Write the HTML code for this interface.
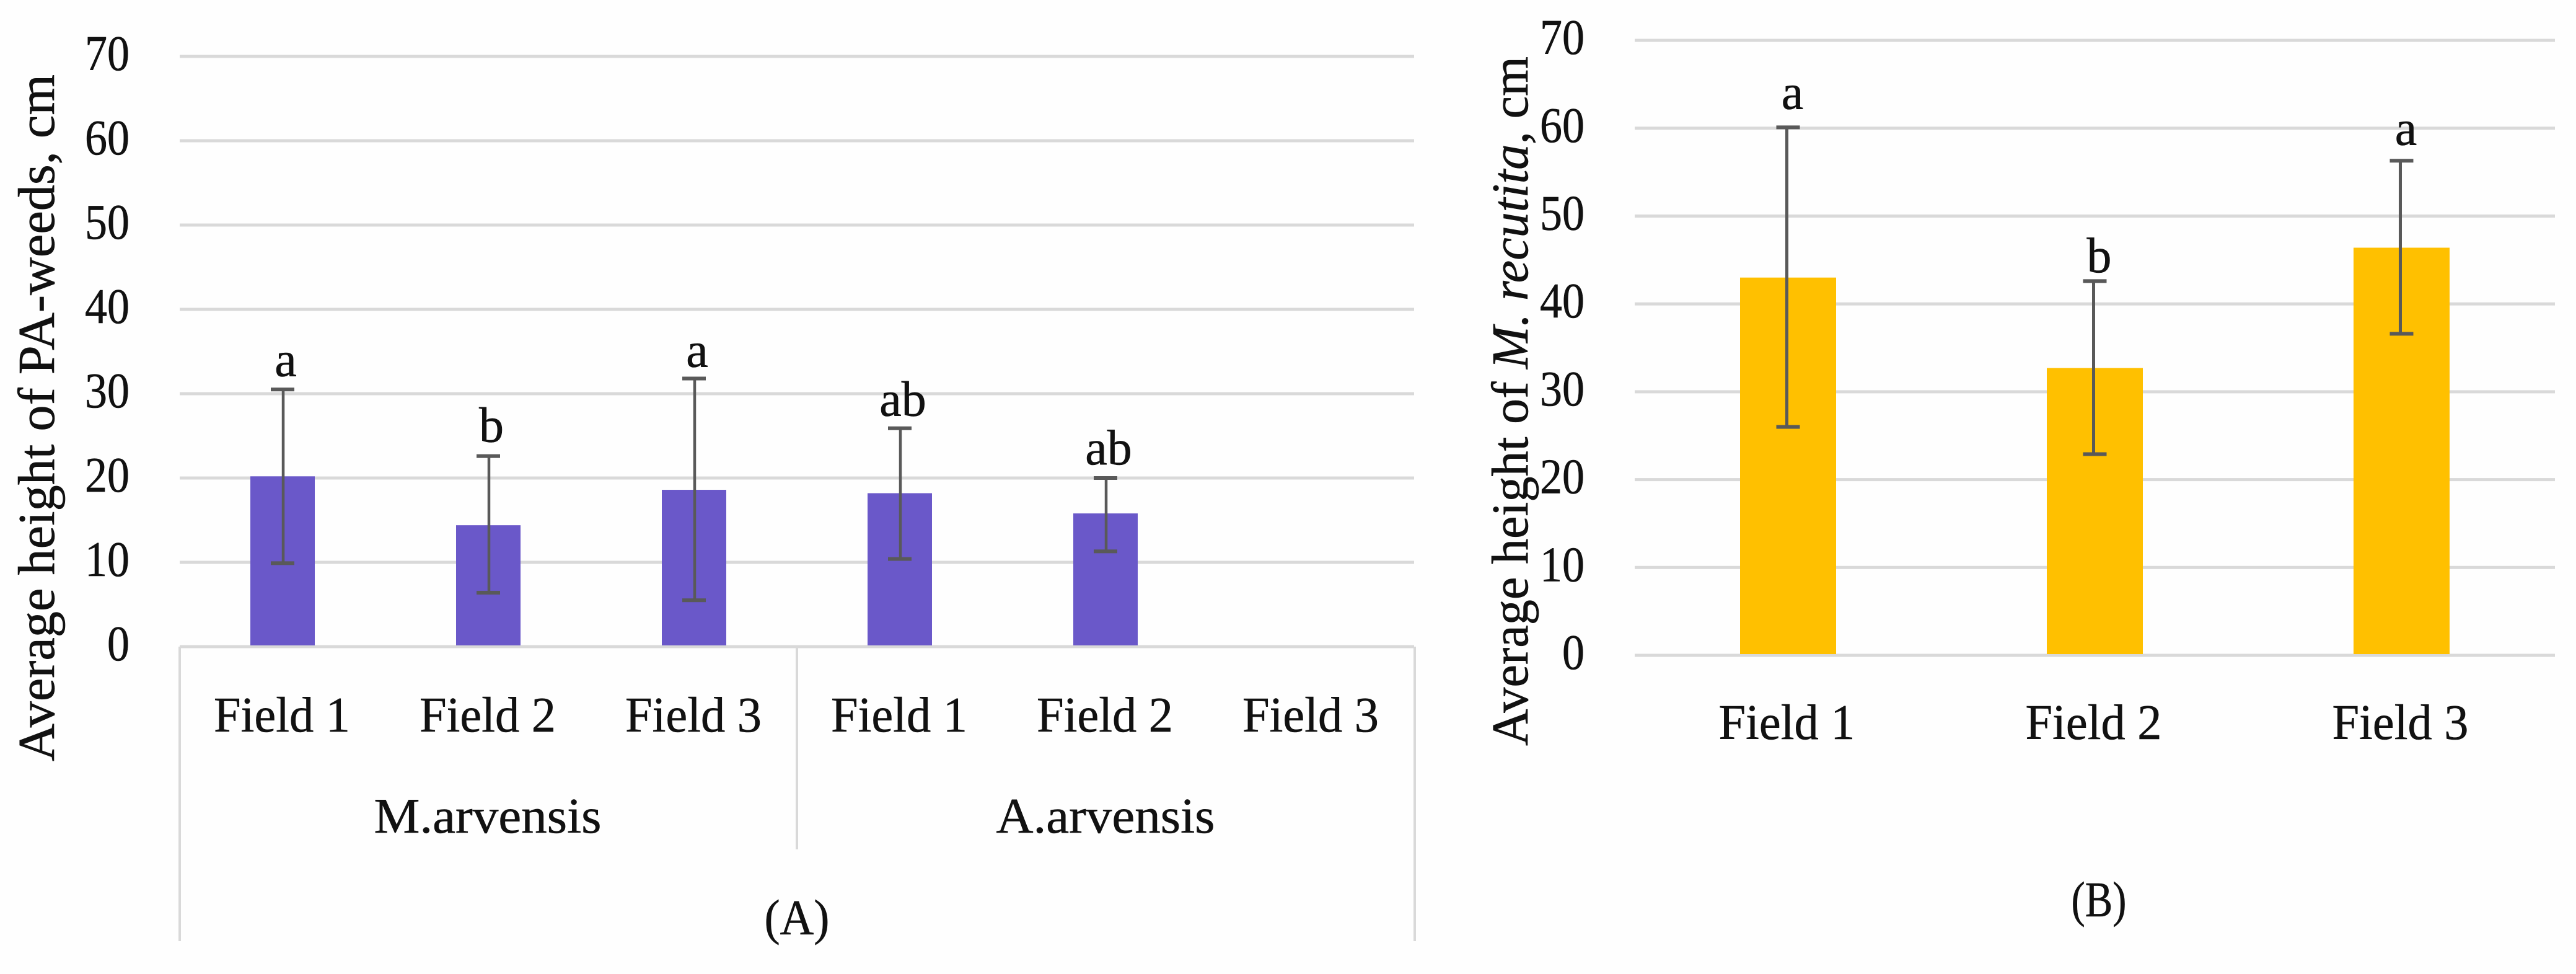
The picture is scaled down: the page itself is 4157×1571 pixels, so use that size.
<!DOCTYPE html>
<html lang="en">
<head>
<meta charset="utf-8">
<title>Average plant height by field</title>
<style>
  html, body { margin: 0; padding: 0; background: #fff; }
  svg { display: block; }
  text { font-family: "Liberation Serif", serif; fill: #111; font-size: 80px; stroke: #111; stroke-width: 0.6px; }
</style>
</head>
<body>
<svg id="figure" xmlns="http://www.w3.org/2000/svg" width="4157" height="1571" viewBox="0 0 4157 1571">
  <rect x="0" y="0" width="4157" height="1571" fill="#fefefe"></rect>
  <g id="chartA">
    <g id="gridA"></g>
    <g id="barsA"></g>
    <g id="ticksA"></g>
    <g id="catsA"></g>
    <rect x="288" y="1043" width="4" height="475" fill="#d9d9d9"></rect>
    <rect x="1284" y="1043" width="4" height="327" fill="#d9d9d9"></rect>
    <rect x="2281" y="1043" width="4" height="475" fill="#d9d9d9"></rect>
    <text x="787" y="1343" text-anchor="middle" textLength="367" lengthAdjust="spacingAndGlyphs">M.arvensis</text>
    <text x="1784" y="1343" text-anchor="middle" textLength="353" lengthAdjust="spacingAndGlyphs">A.arvensis</text>
    <text x="1286" y="1507" text-anchor="middle" textLength="105" lengthAdjust="spacingAndGlyphs">(A)</text>
    <text transform="translate(87,1228) rotate(-90)" x="0" y="0" style="font-size:84px" textLength="1108" lengthAdjust="spacingAndGlyphs">Average height of PA-weeds, cm</text>
  </g>
  <g id="chartB">
    <g id="gridB"></g>
    <g id="barsB"></g>
    <g id="ticksB"></g>
    <g id="catsB"></g>
    <text x="3387" y="1478" text-anchor="middle" textLength="89" lengthAdjust="spacingAndGlyphs">(B)</text>
    <text transform="translate(2465,1203) rotate(-90)" x="0" y="0" style="font-size:84px" textLength="1112" lengthAdjust="spacingAndGlyphs">Average height of <tspan font-style="italic">M. recutita,</tspan> cm</text>
  </g>
</svg>
<script>
const tickValues = [0, 10, 20, 30, 40, 50, 60, 70];

const categoriesA = ['Field 1', 'Field 2', 'Field 3', 'Field 1', 'Field 2', 'Field 3'];
const valuesA = [20.2, 14.4, 18.6, 18.2, 15.8, null];
const errHighA = [30.5, 22.6, 31.8, 25.9, 20.0, null];
const errLowA = [9.9, 6.4, 5.5, 10.4, 11.3, null];
const lettersA = ['a', 'b', 'a', 'ab', 'ab', ''];
const letterLevelsA = [32.1, 24.3, 33.2, 27.4, 21.6, null];

const categoriesB = ['Field 1', 'Field 2', 'Field 3'];
const valuesB = [43.0, 32.7, 46.4];
const errHighB = [60.1, 42.6, 56.3];
const errLowB = [26.0, 22.9, 36.6];
const lettersB = ['a', 'b', 'a'];
const letterLevelsB = [62.2, 43.6, 58.1];

const NS = 'http://www.w3.org/2000/svg';

function yA(v) { return 1043 - 13.6 * v; }
function xA(i) { return 290 + 332 * (i + 0.5); }
function yB(v) { return 1057 - 14.17 * v; }
function xB(i) { return 2638 + 495 * (i + 0.5); }

function make(tag, attrs, parent, content) {
  const el = document.createElementNS(NS, tag);
  Object.keys(attrs).forEach(function (k) { el.setAttribute(k, attrs[k]); });
  if (content !== undefined) el.textContent = content;
  parent.appendChild(el);
  return el;
}

function drawChart(opts) {
  const grid = document.getElementById(opts.gridId);
  const bars = document.getElementById(opts.barsId);
  const ticks = document.getElementById(opts.ticksId);
  const cats = document.getElementById(opts.catsId);

  tickValues.forEach(function (t) {
    const line = make('rect', { x: opts.left, y: opts.y(t) - 2.5, width: opts.right - opts.left, height: 5, fill: '#d9d9d9' }, grid);
    
    

    const s = String(t);
    const label = make('text', { x: opts.tickRight, y: opts.y(t) + 22, 'text-anchor': 'end', textLength: 36 * s.length, lengthAdjust: 'spacingAndGlyphs' }, ticks, s);
    
    
  });

  opts.categories.forEach(function (c, i) {
    const cx = opts.x(i);

    const cat = make('text', { x: cx + opts.catShift, y: opts.catY, 'text-anchor': 'middle', textLength: 220, lengthAdjust: 'spacingAndGlyphs' }, cats, c);
    
    

    const v = opts.values[i];
    if (v === null) return;

    const bar = make('rect', { x: cx - opts.barW / 2, y: opts.y(v), width: opts.barW, height: opts.y(0) - 2 - opts.y(v), fill: opts.color }, bars);
    
    

    const yHi = opts.y(opts.errHigh[i]);
    const yLo = opts.y(opts.errLow[i]);
    const stemX = cx + opts.stemShift;

    const stem = make('rect', { x: stemX - opts.stemW / 2, y: yHi, width: opts.stemW, height: yLo - yHi, fill: '#595959' }, bars);
    
    

    const capTop = make('rect', { x: cx - 19, y: yHi - 3, width: 38, height: 6, fill: '#595959' }, bars);
    
    

    const capBottom = make('rect', { x: cx - 19, y: yLo - 3, width: 38, height: 6, fill: '#595959' }, bars);
    
    

    const letter = make('text', { x: cx + opts.letterShift, y: opts.y(opts.letterLevels[i]), 'text-anchor': 'middle' }, bars, opts.letters[i]);
    
    
  });
}

drawChart({
  gridId: 'gridA', barsId: 'barsA', ticksId: 'ticksA', catsId: 'catsA',
  left: 290, right: 2282, tickRight: 209, catY: 1180, catShift: -1,
  x: xA, y: yA, barW: 104, stemW: 4.5, stemShift: 1, letterShift: 5, color: '#6a58c9',
  categories: categoriesA, values: valuesA, errHigh: errHighA, errLow: errLowA,
  letters: lettersA, letterLevels: letterLevelsA
});

drawChart({
  gridId: 'gridB', barsId: 'barsB', ticksId: 'ticksB', catsId: 'catsB',
  left: 2638, right: 4123, tickRight: 2557, catY: 1192, catShift: -2,
  x: xB, y: yB, barW: 155, stemW: 5, stemShift: -2, letterShift: 7, color: '#ffc000',
  categories: categoriesB, values: valuesB, errHigh: errHighB, errLow: errLowB,
  letters: lettersB, letterLevels: letterLevelsB
});
</script>
</body>
</html>
